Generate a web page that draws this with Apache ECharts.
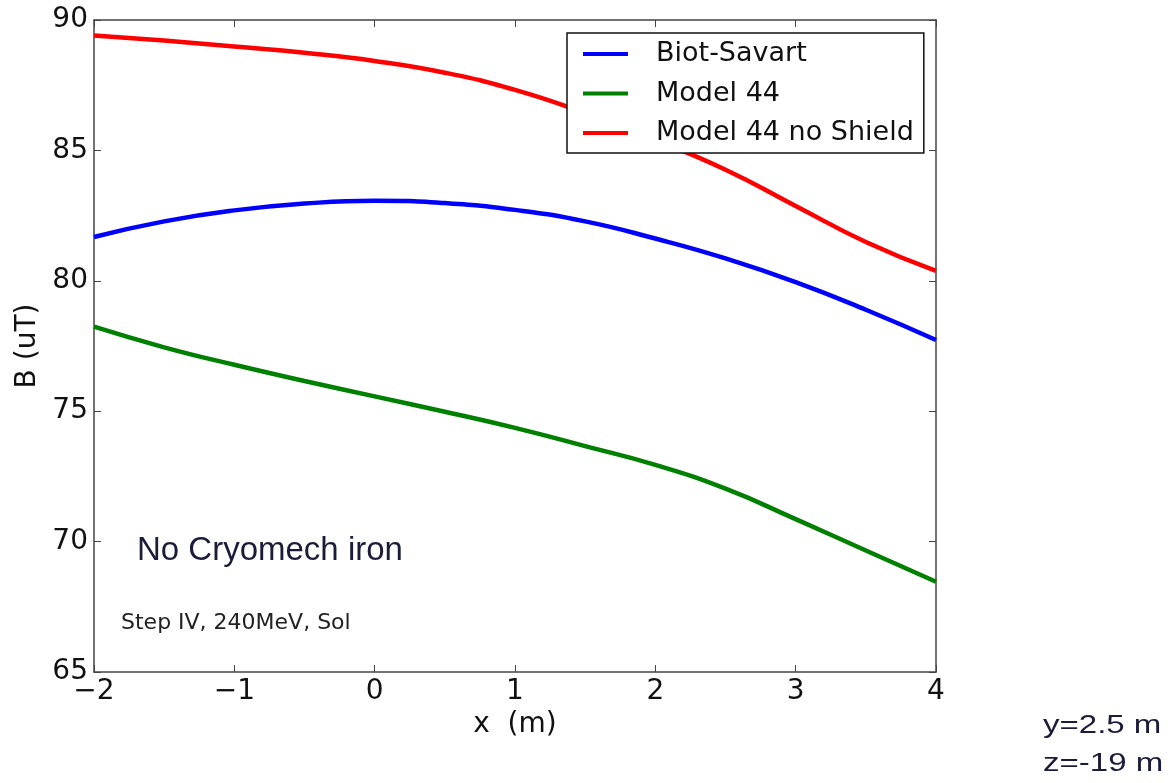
<!DOCTYPE html>
<html lang="en" style="height: 100%">
<head>
    <meta charset="UTF-8">
    <title>B (uT) vs x</title>
    <script src="https://cdn.jsdelivr.net/npm/echarts@6/dist/echarts.min.js"></script>
</head>
<body style="height: 100%; margin: 0; background: #fff">
<div id="main" style="width: 1172px; height: 783px"></div>
<script>
    var xs = [-2, -1.5, -1, -0.5, 0, 0.5, 1, 1.5, 2, 2.5, 3, 3.5, 4];
    var biotSavart = [81.68, 82.28, 82.70, 82.96, 83.07, 82.98, 82.72, 82.28, 81.62, 80.86, 79.95, 78.89, 77.73];
    var model44 = [78.24, 77.45, 76.78, 76.16, 75.57, 74.98, 74.36, 73.66, 72.94, 72.03, 70.86, 69.66, 68.46];
    var model44NoShield = [89.41, 89.21, 88.98, 88.74, 88.43, 87.98, 87.32, 86.43, 85.40, 84.26, 82.87, 81.49, 80.38];
    var seriesNames = ['Biot-Savart', 'Model 44', 'Model 44 no Shield'];

    function pairs(ys) {
        return xs.map(function (x, i) { return [x, ys[i]]; });
    }
    function minus(v) {
        return String(v).replace('-', '\u2212');
    }

    var axisLine = {show: true, onZero: false, lineStyle: {color: '#444', width: 1.5}};
    var tick = {show: true, inside: true, length: 7, lineStyle: {color: '#444', width: 1}};
    var tickFont = {fontFamily: 'DejaVu Sans', fontSize: 28, color: '#111'};

    function line(name, ys, color) {
        return {
            name: name,
            type: 'line',
            data: pairs(ys),
            smooth: 0.5,
            showSymbol: false,
            lineStyle: {color: color, width: 4.5},
            itemStyle: {color: color},
            z: 2
        };
    }

    var option = {
        backgroundColor: '#fff',
        animation: false,
        grid: {left: 94, top: 20, width: 842, height: 652},
        legend: {
            data: seriesNames,
            orient: 'vertical',
            left: 567,
            top: 33,
            width: 355,
            padding: [6, 10, 5, 16],
            itemGap: 9.5,
            itemWidth: 45,
            itemHeight: 4,
            icon: 'rect',
            backgroundColor: '#fff',
            borderColor: '#111',
            borderWidth: 1.5,
            textStyle: {
                fontFamily: 'DejaVu Sans',
                fontSize: 27,
                color: '#111',
                lineHeight: 30,
                padding: [0, 0, 0, 23]
            },
            z: 10
        },
        xAxis: [{
            type: 'value',
            min: -2, max: 4, interval: 1,
            name: 'x  (m)',
            nameLocation: 'middle',
            nameGap: 36,
            nameTextStyle: tickFont,
            axisLine: axisLine,
            axisTick: tick,
            splitLine: {show: false},
            axisLabel: Object.assign({margin: 6, formatter: minus}, tickFont)
        }, {
            type: 'value',
            position: 'top',
            min: -2, max: 4, interval: 1,
            axisLine: axisLine,
            axisTick: tick,
            splitLine: {show: false},
            axisLabel: {show: false}
        }],
        yAxis: [{
            type: 'value',
            min: 65, max: 90, interval: 5,
            name: 'B (uT)',
            nameLocation: 'middle',
            nameGap: 52,
            nameTextStyle: tickFont,
            axisLine: axisLine,
            axisTick: tick,
            splitLine: {show: false},
            axisLabel: Object.assign({margin: 6}, tickFont)
        }, {
            type: 'value',
            position: 'right',
            min: 65, max: 90, interval: 5,
            axisLine: axisLine,
            axisTick: tick,
            splitLine: {show: false},
            axisLabel: {show: false}
        }],
        series: [
            line(seriesNames[0], biotSavart, '#0000ff'),
            line(seriesNames[1], model44, '#008000'),
            line(seriesNames[2], model44NoShield, '#ff0000')
        ],
        graphic: [{
            type: 'text',
            x: 137, y: 551,
            style: {
                text: 'No Cryomech iron',
                fontFamily: 'Liberation Sans',
                fontSize: 33,
                fill: '#1c1c3a',
                textVerticalAlign: 'middle'
            }
        }, {
            type: 'text',
            x: 121, y: 623,
            style: {
                text: 'Step IV, 240MeV, Sol',
                fontFamily: 'DejaVu Sans',
                fontSize: 22,
                fill: '#222',
                textVerticalAlign: 'middle'
            }
        }, {
            type: 'text',
            x: 1043, y: 726, scaleX: 1.27,
            style: {
                text: 'y=2.5 m',
                fontFamily: 'Liberation Sans',
                fontSize: 26,
                fill: '#1c1c3a',
                textVerticalAlign: 'middle'
            }
        }, {
            type: 'text',
            x: 1043, y: 764, scaleX: 1.27,
            style: {
                text: 'z=-19 m',
                fontFamily: 'Liberation Sans',
                fontSize: 26,
                fill: '#1c1c3a',
                textVerticalAlign: 'middle'
            }
        }]
    };

    var myChart = echarts.init(document.getElementById('main'));
    myChart.setOption(option);
</script>
</body>
</html>
